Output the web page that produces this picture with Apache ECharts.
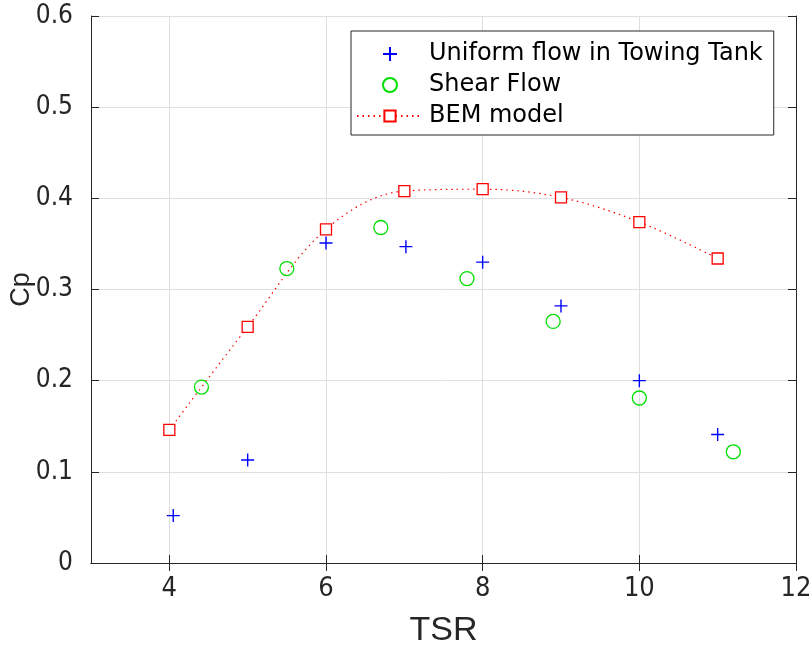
<!DOCTYPE html>
<html>
<head>
<meta charset="utf-8">
<script src="https://cdn.jsdelivr.net/npm/echarts@6/dist/echarts.min.js"></script>
<style>html,body{margin:0;padding:0;background:#fff;}#c{width:812px;height:646px;}</style>
</head>
<body>
<div id="c"></div>
<script>
const uniformTSR = [4.05, 5, 6, 7.02, 8, 9, 10, 11];
const uniformCp  = [0.052, 0.113, 0.351, 0.347, 0.330, 0.282, 0.200, 0.141];
const shearTSR   = [4.41, 5.5, 6.7, 7.8, 8.9, 10, 11.2];
const shearCp    = [0.193, 0.323, 0.368, 0.312, 0.265, 0.181, 0.122];
const bemTSR     = [4, 5, 6, 7, 8, 9, 10, 11];
const bemCp      = [0.146, 0.259, 0.366, 0.408, 0.410, 0.401, 0.374, 0.334];
const seriesNames = ['Uniform flow in Towing Tank', 'Shear Flow', 'BEM model'];
const xTicks = [4, 6, 8, 10, 12];
const yTicks = [0, 0.1, 0.2, 0.3, 0.4, 0.5, 0.6];

const zip = (a, b) => a.map((v, i) => [v, b[i]]);
const TICKFONT = '"DejaVu Sans Condensed", "Liberation Sans", sans-serif';
const NAMEFONT = '"Liberation Sans", sans-serif';
const LEGFONT = '"DejaVu Sans", sans-serif';
const axisCol = '#262626';
const plusPath = 'path://M0,5L10,5M5,0L5,10';

const chart = echarts.init(document.getElementById('c'), null, {renderer: 'canvas'});
const tickStyle = {show: true, inside: true, length: 8, lineStyle: {color: axisCol}};
const chartOpt = {
  animation: false,
  backgroundColor: '#fff',
  grid: {left: 91, right: 16, top: 16, bottom: 83, containLabel: false, outerBoundsMode: 'none'},
  xAxis: [
    {
      type: 'value', min: 3, max: 12, interval: 1, position: 'bottom',
      name: 'TSR', nameLocation: 'middle', nameGap: 51,
      nameTextStyle: {fontFamily: NAMEFONT, fontSize: 34, color: axisCol},
      axisLine: {show: true, lineStyle: {color: axisCol, width: 1}},
      axisTick: Object.assign({}, tickStyle, {customValues: xTicks}),
      axisLabel: {fontFamily: TICKFONT, fontSize: 27, color: axisCol, margin: 12, customValues: xTicks},
      splitLine: {show: true, lineStyle: {color: '#dfdfdf', width: 1}}
    },
    {
      type: 'value', min: 3, max: 12, interval: 1, position: 'top',
      axisLine: {show: true, lineStyle: {color: axisCol, width: 1}},
      axisTick: Object.assign({}, tickStyle, {customValues: xTicks}),
      axisLabel: {show: false}, splitLine: {show: false}
    }
  ],
  yAxis: [
    {
      type: 'value', min: 0, max: 0.6, interval: 0.1, position: 'left',
      name: 'Cp', nameLocation: 'middle', nameGap: 56, nameMoveOverlap: false,
      nameTextStyle: {fontFamily: NAMEFONT, fontSize: 27, color: axisCol},
      axisLine: {show: true, lineStyle: {color: axisCol}},
      axisTick: tickStyle,
      axisLabel: {fontFamily: TICKFONT, fontSize: 26, color: axisCol, margin: 18,
        formatter: v => String(Math.round(v * 10) / 10)},
      splitLine: {show: true, lineStyle: {color: '#dfdfdf', width: 1}}
    },
    {
      type: 'value', min: 0, max: 0.6, interval: 0.1, position: 'right',
      axisLine: {show: true, lineStyle: {color: axisCol}},
      axisTick: tickStyle,
      axisLabel: {show: false}, splitLine: {show: false}
    }
  ],
  legend: {
    orient: 'vertical', left: 351, top: 31,
    backgroundColor: '#fff', borderColor: axisCol, borderWidth: 1,
    padding: [11, 11, 7, 5], itemGap: 7, itemWidth: 66, itemHeight: 14,
    textStyle: {fontFamily: LEGFONT, fontSize: 24, color: '#000', padding: [0, 0, 0, 1]},
    data: seriesNames
  },
  series: [
    {
      name: seriesNames[0], type: 'scatter', data: zip(uniformTSR, uniformCp),
      symbol: plusPath, symbolSize: 13,
      itemStyle: {color: 'none', borderColor: '#0000ff', borderWidth: 1.4, opacity: 1},
      z: 5
    },
    {
      name: seriesNames[1], type: 'scatter', data: zip(shearTSR, shearCp),
      symbol: 'circle', symbolSize: 14,
      itemStyle: {color: 'none', borderColor: '#00e000', borderWidth: 1.3, opacity: 1},
      z: 5
    },
    {
      name: seriesNames[2], type: 'line', data: zip(bemTSR, bemCp),
      smooth: 0.35, symbol: 'rect', symbolSize: 11, showSymbol: true,
      lineStyle: {color: '#ff0000', width: 1.2, type: [1.5, 4]},
      itemStyle: {color: '#ffffff', borderColor: '#ff0000', borderWidth: 1.3},
      z: 4
    }
  ]
};
chart.setOption(chartOpt);
</script>
</body>
</html>
